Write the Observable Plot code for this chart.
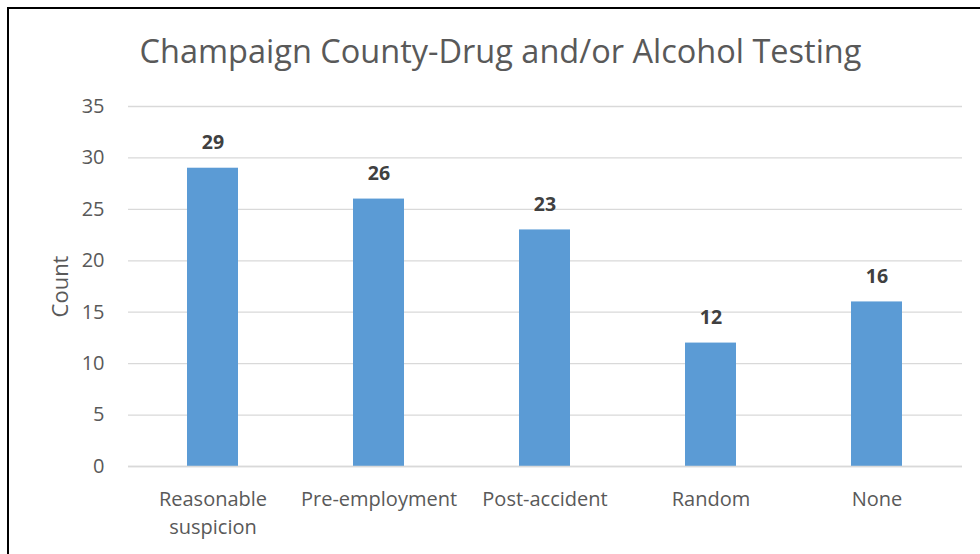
<!DOCTYPE html>
<html>
<head>
<meta charset="utf-8">
<script src="https://cdn.jsdelivr.net/npm/d3@7"></script>
<script src="https://cdn.jsdelivr.net/npm/@observablehq/plot@0.6"></script>
<style>
  html, body { margin: 0; padding: 0; background: #fff; }
  #wrap { position: relative; width: 980px; height: 554px; overflow: hidden; }
  #frame { position: absolute; left: 7px; top: 7px; width: 990px; height: 560px;
           border-left: 2px solid #000; border-top: 2px solid #000; box-sizing: border-box; }
  #chart { position: absolute; left: 0; top: 0; }
</style>
</head>
<body>
<div id="wrap"><div id="frame"></div><div id="chart"></div></div>
<script>
const title = "Champaign County-Drug and/or Alcohol Testing";
const yLabel = "Count";
const categories = ["Reasonable suspicion", "Pre-employment", "Post-accident", "Random", "None"];
const counts = [29, 26, 23, 12, 16];
const yTicks = [0, 5, 10, 15, 20, 25, 30, 35];
const tickLabels = {"Reasonable suspicion": "Reasonable\nsuspicion"};

const data = categories.map((c, i) => ({category: c, count: counts[i]}));
const font = "'Open Sans', 'Noto Sans', sans-serif";

const plot = Plot.plot({
  width: 980,
  height: 554,
  marginTop: 106,
  marginBottom: 88,
  marginLeft: 128,
  marginRight: 18,
  style: {fontFamily: font, background: "transparent"},
  x: {domain: categories, paddingInner: 0.69, paddingOuter: 0.345},
  y: {domain: [0, 35]},
  marks: [
    Plot.gridY(yTicks, {stroke: "#d9d9d9", strokeOpacity: 1, strokeWidth: 1.3}),
    Plot.barY(data, {x: "category", y: "count", fill: "#5b9bd5"}),
    Plot.ruleY([0], {stroke: "#d9d9d9", strokeWidth: 1.5}),
    Plot.axisY({ticks: yTicks, tickSize: 0, tickPadding: 24, fontSize: 20, fill: "#595959", label: null}),
    Plot.axisX({tickSize: 0, tickPadding: 20, fontSize: 20, fill: "#595959", lineAnchor: "top", lineHeight: 1.4,
      tickFormat: d => tickLabels[d] ?? d, label: null}),
    Plot.text([yLabel], {frameAnchor: "left", textAnchor: "middle", lineAnchor: "middle", dx: -68, rotate: -90, fontSize: 22, fill: "#595959"}),
    Plot.text(data, {x: "category", y: "count", text: d => String(d.count), dy: -25,
      fontSize: 19.5, fontWeight: "bold", fill: "#404040"}),
    Plot.text([title], {frameAnchor: "top", dy: -67, dx: -45, fontSize: 32.5, fill: "#595959"})
  ]
});
document.getElementById("chart").appendChild(plot);
</script>
</body>
</html>
